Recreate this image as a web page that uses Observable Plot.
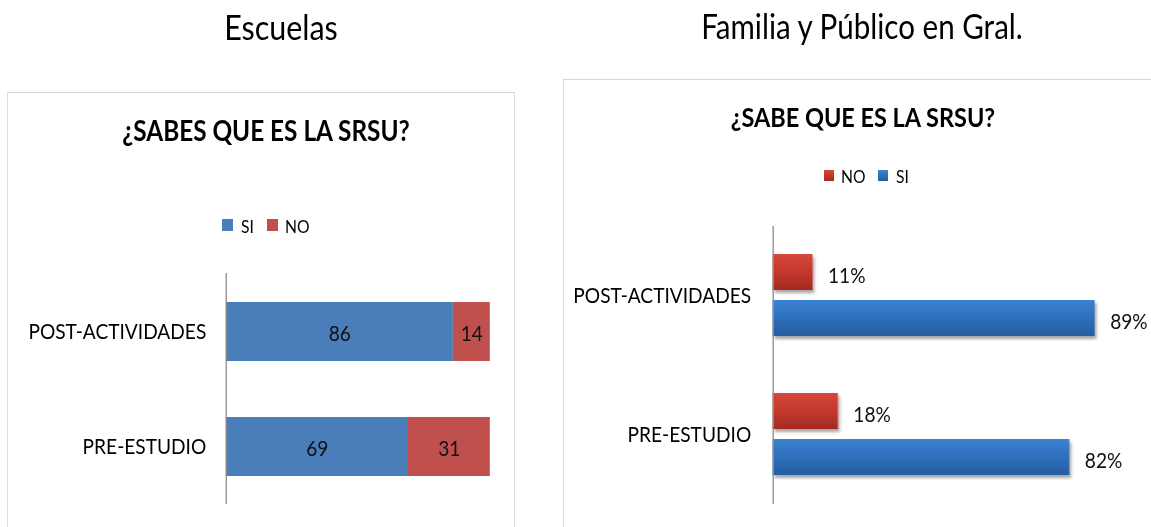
<!DOCTYPE html>
<html><head><meta charset="utf-8">
<script src="https://cdn.jsdelivr.net/npm/d3@7"></script>
<script src="https://cdn.jsdelivr.net/npm/@observablehq/plot@0.6"></script>
<style>
html,body{margin:0;padding:0;background:#fff;overflow:hidden;width:1151px;height:527px;}
#stage{position:absolute;left:0;top:0;height:527px;transform-origin:0 0;font-family:Lato,"Open Sans",sans-serif;}
.box{position:absolute;border:1px solid #d6d6d6;box-sizing:border-box;background:#fff;}
</style></head><body>
<div id="stage"></div>
<script>
// ---- data ----
const categories = ["POST-ACTIVIDADES", "PRE-ESTUDIO"];
const escuelasSeries = ["SI", "NO"];
const escuelasSI = [86, 69];
const escuelasNO = [14, 31];
const familiaSeries = ["NO", "SI"];
const familiaNO = [11, 18];
const familiaSI = [89, 82];
const pageTitles = ["Escuelas", "Familia y Público en Gral."];
const chartTitles = ["¿SABES QUE ES LA SRSU?", "¿SABE QUE ES LA SRSU?"];

// ---- layout (horizontal squash to mimic condensed typeface) ----
const S = 0.87;
const V = x => x / S;
const FONT = "Lato, 'Open Sans', sans-serif";
const stage = document.getElementById("stage");
stage.style.width = V(1151) + "px";
stage.style.transform = `scaleX(${S})`;

function box(l, t, w, h) {
  const d = document.createElement("div");
  d.className = "box";
  Object.assign(d.style, {left: V(l) + "px", top: t + "px", width: V(w) + "px", height: h + "px"});
  stage.appendChild(d);
}
box(7, 92, 508, 460);
box(563, 79, 640, 470);

// ---- gradients / filters ----
const overlay = d3.create("svg").attr("width", V(1151)).attr("height", 527)
  .style("position", "absolute").style("left", 0).style("top", 0)
  .style("pointer-events", "none").style("z-index", 5)
  .style("font-family", FONT);
const defs = overlay.append("defs");
function grad(id, stops) {
  const g = defs.append("linearGradient").attr("id", id).attr("x1", 0).attr("y1", 0).attr("x2", 0).attr("y2", 1);
  stops.forEach(([o, c]) => g.append("stop").attr("offset", o).attr("stop-color", c));
}
grad("gRed", [[0, "#d6473b"], [0.45, "#c63a2e"], [1, "#a42a21"]]);
grad("gBlue", [[0, "#3b83d3"], [0.45, "#2f71bf"], [1, "#265e9f"]]);
const f = defs.append("filter").attr("id", "shadow").attr("x", "-5%").attr("y", "-20%").attr("width", "115%").attr("height", "160%");
f.append("feDropShadow").attr("dx", 2).attr("dy", 3).attr("stdDeviation", 1.6)
  .attr("flood-color", "#000").attr("flood-opacity", 0.35);

// ---- left chart: stacked bars ----
const escData = categories.flatMap((c, i) => [
  {cat: c, series: escuelasSeries[0], value: escuelasSI[i]},
  {cat: c, series: escuelasSeries[1], value: escuelasNO[i]}
]);
const leftColors = ["#4a7ebb", "#c0504d"];
const left = Plot.plot({
  width: V(507), height: 260,
  marginLeft: V(218), marginRight: V(25), marginTop: 13, marginBottom: 16,
  x: {domain: [0, 100], axis: null},
  y: {domain: categories, paddingInner: 0.49, paddingOuter: 0.245, tickSize: 0, tickPadding: V(20), label: null},
  color: {domain: escuelasSeries, range: leftColors},
  style: {fontFamily: FONT, fontSize: "22px", color: "#000", background: "transparent", overflow: "visible"},
  marks: [
    Plot.barX(escData, Plot.stackX({x: "value", y: "cat", fill: "series"})),
    Plot.text(escData, Plot.stackX({x: "value", y: "cat", z: "series", text: "value", fill: "#111", dy: 2})),
    Plot.ruleX([0], {stroke: "#8c8c8c", strokeWidth: 1.5})
  ]
});
Object.assign(left.style, {position: "absolute", left: V(8) + "px", top: "260px"});
stage.appendChild(left);

// ---- right chart: grouped bars ----
const famData = categories.flatMap((c, i) => [
  {cat: c, series: familiaSeries[0], value: familiaNO[i]},
  {cat: c, series: familiaSeries[1], value: familiaSI[i]}
]);
const right = Plot.plot({
  width: V(587), height: 305,
  marginLeft: V(209), marginRight: V(16.2), marginTop: 10, marginBottom: 16,
  facet: {data: famData, y: "cat", label: null},
  fy: {domain: categories, padding: 0, axis: "left", tickSize: 0, tickPadding: V(22), label: null},
  x: {domain: [0, 100], axis: null},
  y: {domain: familiaSeries, paddingInner: 0.213, paddingOuter: 0.59, axis: null},
  color: {domain: familiaSeries, range: ["url(#gRed)", "url(#gBlue)"]},
  style: {fontFamily: FONT, fontSize: "22px", color: "#000", background: "transparent", overflow: "visible"},
  marks: [
    Plot.barX(famData, {x: "value", y: "series", fill: "series"}),
    Plot.text(famData, {x: "value", y: "series", text: d => `${d.value}%`, textAnchor: "start", dx: V(15), dy: 3, fill: "#111"}),
    Plot.ruleX([0], {stroke: "#8c8c8c", strokeWidth: 1.5})
  ]
});
Object.assign(right.style, {position: "absolute", left: V(564) + "px", top: "215px"});
right.querySelectorAll('g[aria-label="bar"]').forEach(g => g.setAttribute("filter", "url(#shadow)"));
stage.appendChild(right);

// ---- titles and legends ----
function txt(s, x, y, size, weight, anchor) {
  overlay.append("text").attr("x", V(x)).attr("y", y).attr("font-size", size)
    .attr("font-weight", weight || "normal").attr("text-anchor", anchor || "start").attr("fill", "#000").text(s);
}
txt(pageTitles[0], 281, 40, 35, "normal", "middle");
txt(pageTitles[1], 862, 39, 34, "normal", "middle");
txt(chartTitles[0], 266, 141, 28, "bold", "middle");
txt(chartTitles[1], 863, 127, 27, "bold", "middle");

function swatch(x, y, w, h, fill) {
  overlay.append("rect").attr("x", V(x)).attr("y", y).attr("width", V(w)).attr("height", h).attr("fill", fill);
}
// left legend: SI, NO
swatch(222, 219, 11, 12, leftColors[0]);
txt(escuelasSeries[0], 241, 233, 18);
swatch(267, 219, 11, 12, leftColors[1]);
txt(escuelasSeries[1], 285, 233, 18);
// right legend: NO, SI
swatch(824, 170, 10, 11, "url(#gRed)");
txt(familiaSeries[0], 841, 183, 18);
swatch(878, 170, 10, 11, "url(#gBlue)");
txt(familiaSeries[1], 896, 183, 18);

stage.appendChild(overlay.node());
</script>
</body></html>
